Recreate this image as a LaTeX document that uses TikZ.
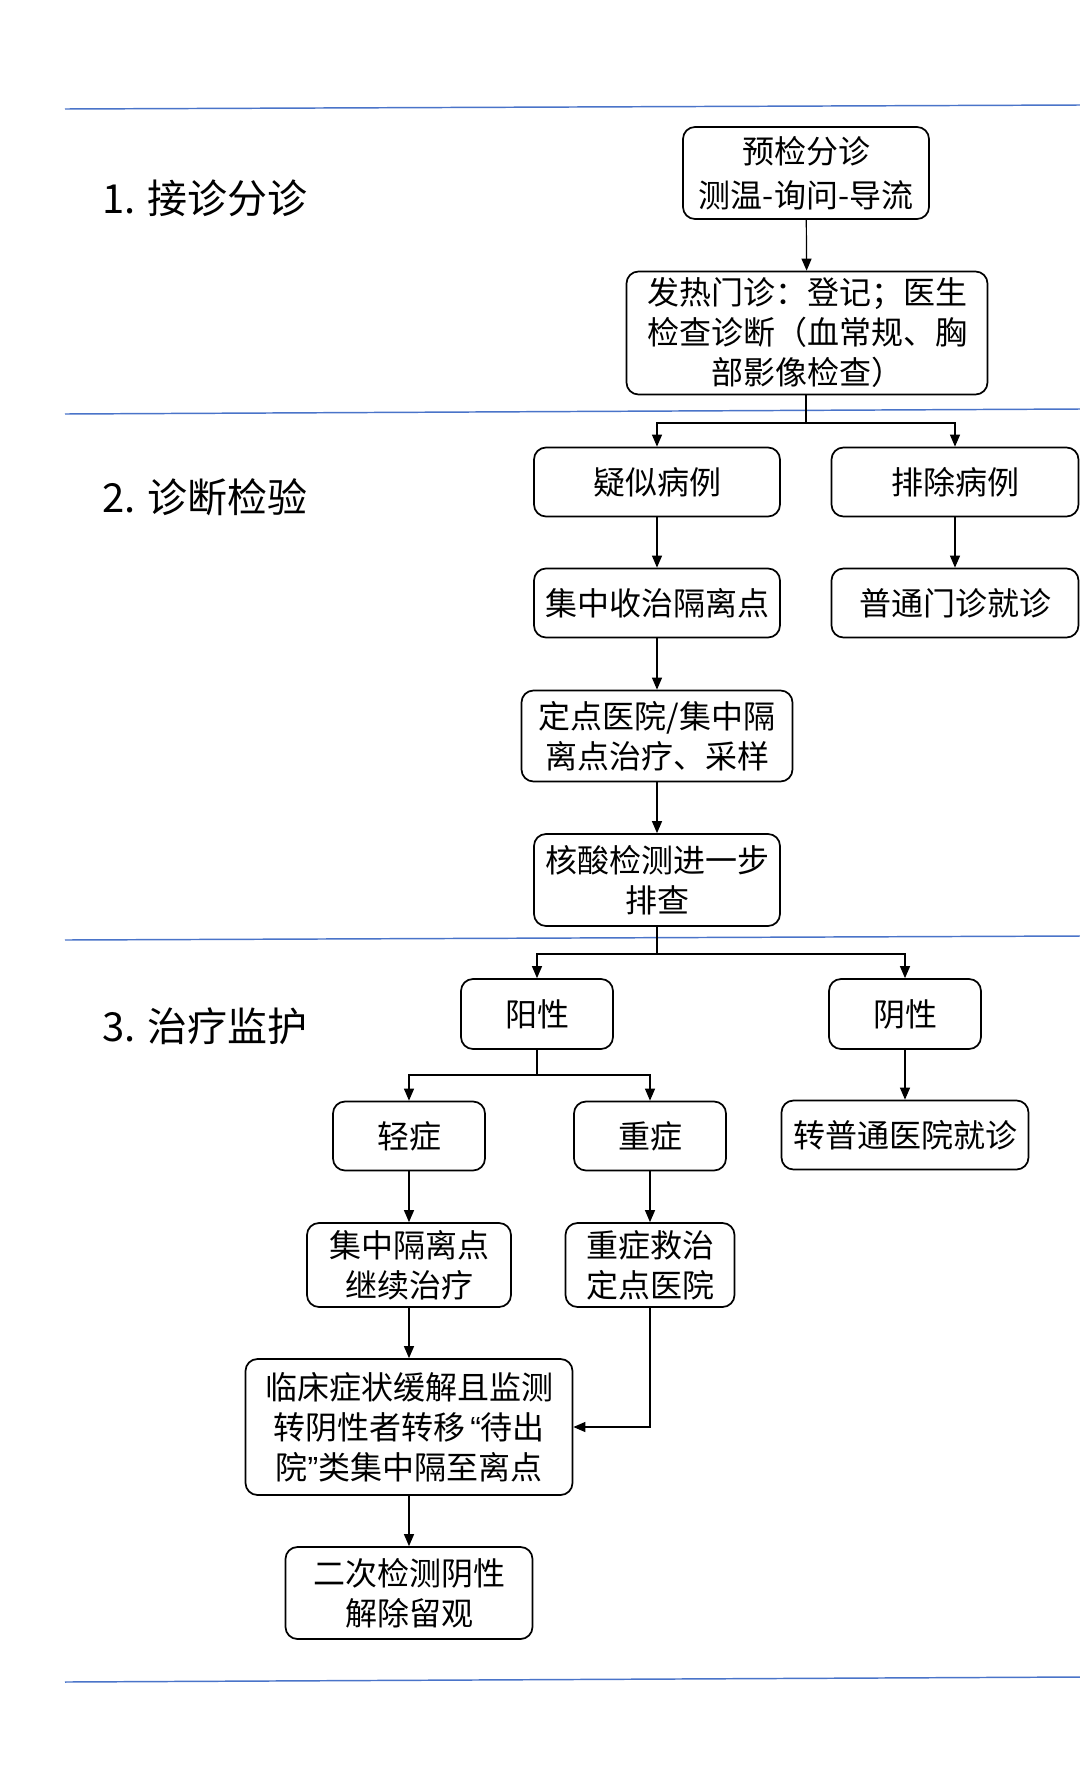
\documentclass[tikz,border=0pt]{standalone}
\usepackage{fontspec}
\setmainfont{Noto Sans CJK SC}
\newfontfamily\latinq{Liberation Sans}
\usetikzlibrary{arrows.meta}
\definecolor{sepblue}{HTML}{4A74C9}
\tikzset{
  box/.style={draw, line width=1.3pt, rounded corners=9pt, inner sep=0pt, align=center,
    font=\fontsize{24}{30}\selectfont},
  conn/.style={line width=0.9pt, -{Triangle[length=9pt,width=7.5pt]}},
  plain/.style={line width=0.9pt},
  sep/.style={draw=sepblue, line width=1.1pt},
  head/.style={anchor=west, inner sep=0pt, font=\fontsize{30}{36}\selectfont}
}
\begin{document}
\begin{tikzpicture}[x=0.75pt,y=-0.75pt]
\useasboundingbox[fill=white] (0,0) rectangle (1080,1767);
% separators
\draw[sep] (65,109) -- (1080,105);
\draw[sep] (65,414) -- (1080,409);
\draw[sep] (65,940) -- (1080,936);
\draw[sep] (65,1682) -- (1080,1677);
% headers
\node[head] (h1) at (102,198) {1. 接诊分诊};
\node[head] (h2) at (102,497) {2. 诊断检验};
\node[head] (h3) at (102,1026) {3. 治疗监护};
% boxes
\node[box, minimum width=184.5pt, minimum height=69pt, font=\fontsize{24}{33}\selectfont] (b1) at (806,173) {预检分诊\\测温-询问-导流};
\node[box, minimum width=270.75pt, minimum height=92.25pt] (b2) at (807,333) {发热门诊：登记；医生\\检查诊断（血常规、胸\\部影像检查）};
\node[box, minimum width=184.5pt, minimum height=51.75pt] (b3) at (657,482) {疑似病例};
\node[box, minimum width=185.25pt, minimum height=51.75pt] (b4) at (955,482) {排除病例};
\node[box, minimum width=184.5pt, minimum height=51.75pt] (b5) at (657,603) {集中收治隔离点};
\node[box, minimum width=185.25pt, minimum height=51.75pt] (b6) at (955,603) {普通门诊就诊};
\node[box, minimum width=203.25pt, minimum height=68.25pt] (b7) at (657,736) {定点医院/集中隔\\离点治疗、采样};
\node[box, minimum width=184.5pt, minimum height=69pt] (b8) at (657,880) {核酸检测进一步\\排查};
\node[box, minimum width=114pt, minimum height=52.5pt] (b9) at (537,1014) {阳性};
\node[box, minimum width=114pt, minimum height=52.5pt] (b10) at (905,1014) {阴性};
\node[box, minimum width=114pt, minimum height=51.75pt] (b11) at (409,1136) {轻症};
\node[box, minimum width=114pt, minimum height=51.75pt] (b12) at (650,1136) {重症};
\node[box, minimum width=185.25pt, minimum height=51.75pt] (b13) at (905,1135) {转普通医院就诊};
\node[box, minimum width=153pt, minimum height=63pt] (b14) at (409,1265) {集中隔离点\\继续治疗};
\node[box, minimum width=126.75pt, minimum height=63pt] (b15) at (650,1265) {重症救治\\定点医院};
\node[box, minimum width=245.25pt, minimum height=102pt] (b16) at (409,1427) {临床症状缓解且监测\\转阴性者转移\,{\latinq “}待出\\院{\latinq ”}类集中隔至离点};
\node[box, minimum width=185.25pt, minimum height=69pt] (b17) at (409,1593) {二次检测阴性\\解除留观};
% fork points
\coordinate (f1) at (806,423);
\coordinate (f2) at (657,954);
\coordinate (f3) at (537,1075);
% connectors
\draw[conn] (b1) -- (b2);
\draw[plain] (b2.south -| f1) -- (f1);
\draw[conn] (f1) -| (b3.north);
\draw[conn] (f1) -| (b4.north);
\draw[conn] (b3) -- (b5);
\draw[conn] (b4) -- (b6);
\draw[conn] (b5) -- (b7);
\draw[conn] (b7) -- (b8);
\draw[plain] (b8.south) -- (f2);
\draw[conn] (f2) -| (b9.north);
\draw[conn] (f2) -| (b10.north);
\draw[plain] (b9.south) -- (f3);
\draw[conn] (f3) -| (b11.north);
\draw[conn] (f3) -| (b12.north);
\draw[conn] (b10) -- (b13);
\draw[conn] (b11) -- (b14);
\draw[conn] (b12) -- (b15);
\draw[conn] (b14) -- (b16);
\draw[conn] (b15.south) |- (b16.east);
\draw[conn] (b16) -- (b17);
\end{tikzpicture}
\end{document}
